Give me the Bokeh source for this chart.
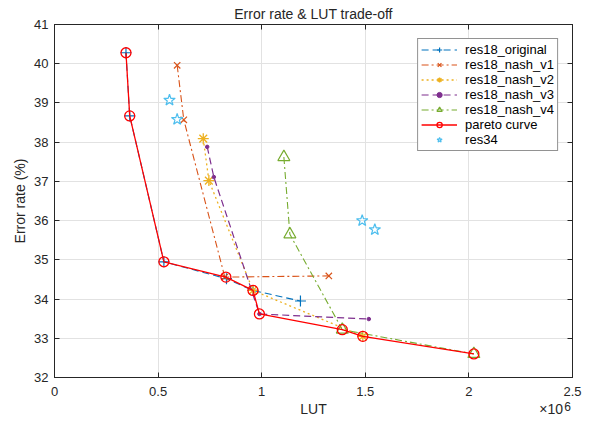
from bokeh.plotting import figure
from bokeh.models import (Range1d, FixedTicker, LinearAxis, Legend, LegendItem)
from bokeh.embed import file_html
from bokeh.resources import INLINE

# LUT values in units of 1e6
orig_lut = [0.345, 0.363, 0.528, 0.83, 0.958, 1.187]
orig_err = [40.28, 38.67, 34.95, 34.52, 34.22, 33.95]

v1_lut = [0.592, 0.624, 0.822, 1.324]
v1_err = [39.96, 38.57, 34.56, 34.59]

v2_lut = [0.718, 0.745, 0.958, 1.488]
v2_err = [38.09, 37.02, 34.22, 33.05]

v3_lut = [0.737, 0.769, 0.989, 1.517]
v3_err = [37.88, 37.11, 33.62, 33.49]

v4_lut = [1.107, 1.136, 1.389, 2.024]
v4_err = [37.62, 35.65, 33.22, 32.60]

pareto_lut = [0.345, 0.363, 0.528, 0.827, 0.958, 0.989, 1.389, 1.488, 2.024]
pareto_err = [40.28, 38.67, 34.95, 34.56, 34.22, 33.62, 33.22, 33.05, 32.60]

res34_lut = [0.555, 0.592, 1.485, 1.546]
res34_err = [39.07, 38.58, 36.00, 35.77]

x_ticks = [0, 0.5, 1, 1.5, 2, 2.5]
x_tick_labels = ["0", "0.5", "1", "1.5", "2", "2.5"]
y_ticks = [32, 33, 34, 35, 36, 37, 38, 39, 40, 41]
x_label = "LUT"
x_exp_base = "\u00d710"
x_exp_power = "6"

FONT = "Liberation Sans"

p = figure(width=590, height=422, output_backend="svg", toolbar_location=None,
           x_range=Range1d(0, 2.5), y_range=Range1d(32, 41),
           min_border_left=54, min_border_right=18, min_border_top=24, min_border_bottom=45)
p.outline_line_color = "#262626"
p.outline_line_width = 1
p.background_fill_color = "white"
p.border_fill_color = "white"

p.title.text = "Error rate & LUT trade-off"
p.title.align = "center"
p.title.text_font = FONT
p.title.text_font_size = "14px"
p.title.text_font_style = "normal"
p.title.text_color = "#262626"
p.title.standoff = 5
p.title.offset = 0

for ax in (p.xaxis[0], p.yaxis[0]):
    ax.major_tick_in = 5
    ax.major_tick_out = 0
    ax.minor_tick_line_color = None
    ax.axis_line_color = "#262626"
    ax.major_tick_line_color = "#262626"
    ax.major_label_text_font = FONT
    ax.major_label_text_font_size = "13px"
    ax.major_label_text_color = "#262626"
    ax.axis_label_text_font = FONT
    ax.axis_label_text_font_size = "14px"
    ax.axis_label_text_font_style = "normal"
    ax.axis_label_text_color = "#262626"

p.xaxis[0].ticker = FixedTicker(ticks=x_ticks)
p.xaxis[0].major_label_overrides = {t: s for t, s in zip(x_ticks, x_tick_labels)}
p.xaxis[0].major_label_standoff = 9
p.yaxis[0].ticker = FixedTicker(ticks=y_ticks)
p.yaxis[0].axis_label = "Error rate (%)"
p.yaxis[0].major_label_standoff = 6
p.yaxis[0].axis_label_standoff = 3

# exponent "6" row (raised), then the row with the axis title and "x10"
pow_pos = [2.476]
pow_ax = LinearAxis(ticker=FixedTicker(ticks=pow_pos),
                    major_label_overrides={pow_pos[0]: x_exp_power},
                    major_tick_in=0, major_tick_out=0, minor_tick_line_color=None,
                    axis_line_color=None, major_tick_line_color=None, major_label_standoff=3,
                    major_label_text_font=FONT, major_label_text_font_size="12px",
                    major_label_text_color="#262626")
p.add_layout(pow_ax, "below")

lab_pos = [1.25, 2.397]
lab_ax = LinearAxis(ticker=FixedTicker(ticks=lab_pos),
                    major_label_overrides={lab_pos[0]: x_label, lab_pos[1]: x_exp_base},
                    major_tick_in=0, major_tick_out=0, minor_tick_line_color=None,
                    axis_line_color=None, major_tick_line_color=None, major_label_standoff=-13,
                    major_label_text_font=FONT, major_label_text_font_size="14px",
                    major_label_text_color="#262626")
p.add_layout(lab_ax, "below")

for side in ("right", "above"):
    ax = LinearAxis(ticker=FixedTicker(ticks=x_ticks if side == "above" else y_ticks),
                    major_label_text_font_size="0px", major_label_text_color=None,
                    major_tick_in=5, major_tick_out=0,
                    minor_tick_line_color=None, axis_line_color="#262626",
                    major_tick_line_color="#262626", major_label_standoff=0)
    p.add_layout(ax, side)

p.xgrid.ticker = FixedTicker(ticks=x_ticks)
p.ygrid.ticker = FixedTicker(ticks=y_ticks)
p.grid.grid_line_color = "#e2e2e2"
p.grid.grid_line_width = 1

blue = "#0072BD"
orange = "#D95319"
yellow = "#EDB120"
purple = "#7E2F8E"
green = "#77AC30"
lblue = "#4DBEEE"
red = "#FF0000"

items = []

l = p.line(orig_lut, orig_err, line_color=blue, line_width=1.1, line_dash="7 4")
m = p.scatter(orig_lut, orig_err, marker="cross", size=11, line_color=blue, line_width=1.2)
items.append(LegendItem(label="res18_original", renderers=[l, m]))

l = p.line(v1_lut, v1_err, line_color=orange, line_width=1.1, line_dash="7 3 2 3")
m = p.scatter(v1_lut, v1_err, marker="x", size=9, line_color=orange, line_width=1.2)
items.append(LegendItem(label="res18_nash_v1", renderers=[l, m]))

l = p.line(v2_lut, v2_err, line_color=yellow, line_width=1.3, line_dash="2 3")
m = p.scatter(v2_lut, v2_err, marker="asterisk", size=11, line_color=yellow, line_width=1.3)
items.append(LegendItem(label="res18_nash_v2", renderers=[l, m]))

l = p.line(v3_lut, v3_err, line_color=purple, line_width=1.2, line_dash="7 4")
m = p.scatter(v3_lut, v3_err, marker="circle", size=3.5, line_color=purple, fill_color=purple)
items.append(LegendItem(label="res18_nash_v3", renderers=[l, m]))

l = p.line(v4_lut, v4_err, line_color=green, line_width=1.1, line_dash="7 3 2 3")
m = p.scatter(v4_lut, v4_err, marker="triangle", size=12, line_color=green, fill_color=None,
              line_width=1.2)
items.append(LegendItem(label="res18_nash_v4", renderers=[l, m]))

l = p.line(pareto_lut, pareto_err, line_color=red, line_width=1.3)
m = p.scatter(pareto_lut, pareto_err, marker="circle", size=10, line_color=red, fill_color=None,
              line_width=1.3)
items.append(LegendItem(label="pareto curve", renderers=[l, m]))

m = p.scatter(res34_lut, res34_err, marker="star", size=12, line_color=lblue, fill_color=None,
              line_width=1.2)
items.append(LegendItem(label="res34", renderers=[m]))

legend = Legend(items=items, location="top_right", margin=14, padding=3, spacing=0,
                glyph_width=36, glyph_height=13, label_height=13, label_standoff=8,
                label_text_font=FONT, label_text_font_size="13px", label_text_color="#000000",
                border_line_color="#262626", border_line_width=1,
                background_fill_color="white", background_fill_alpha=1)
p.add_layout(legend, "center")

open("out.html", "w").write(file_html(p, INLINE))
